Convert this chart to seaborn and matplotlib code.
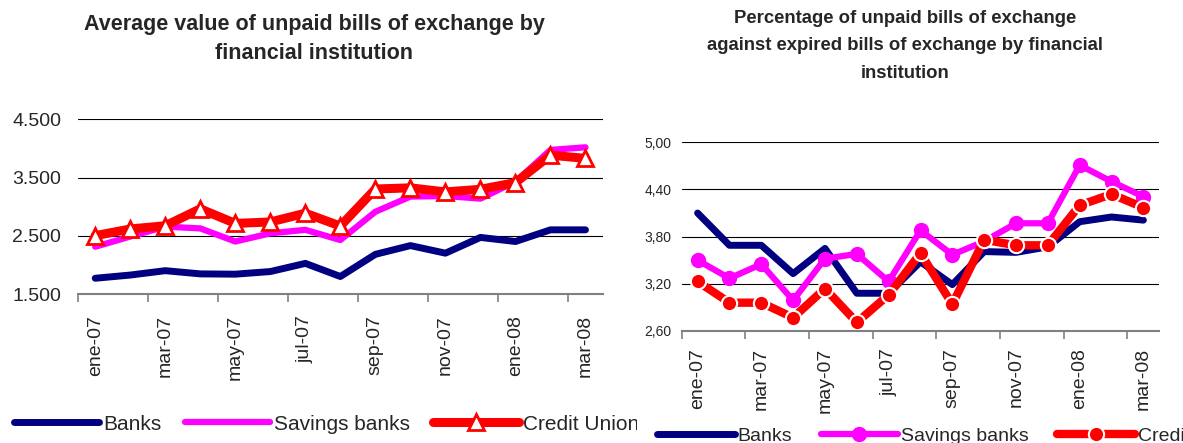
import numpy as np
import pandas as pd
import seaborn as sns
import matplotlib.pyplot as plt
from matplotlib.transforms import Bbox, TransformedBbox

sns.set_style("white")
plt.rcParams['font.family'] = ['Liberation Sans', 'DejaVu Sans']

months = ["ene-07", "feb-07", "mar-07", "abr-07", "may-07", "jun-07", "jul-07", "ago-07",
          "sep-07", "oct-07", "nov-07", "dic-07", "ene-08", "feb-08", "mar-08"]
series_names = ["Banks", "Savings banks", "Credit Union"]

# average value of unpaid bills
avg_banks = [1775, 1830, 1905, 1850, 1845, 1890, 2030, 1805, 2185, 2335, 2205, 2475, 2405, 2605, 2605]
avg_savings = [2315, 2490, 2660, 2630, 2405, 2545, 2605, 2430, 2915, 3175, 3185, 3140, 3430, 3975, 4020]
avg_credit = [2505, 2620, 2675, 2965, 2715, 2740, 2890, 2670, 3305, 3325, 3255, 3300, 3415, 3885, 3830]
avg_ticks = [1500, 2500, 3500, 4500]
avg_ticklabels = ["1.500", "2.500", "3.500", "4.500"]

# percentage unpaid vs expired
pct_banks = [4.10, 3.69, 3.69, 3.33, 3.65, 3.08, 3.08, 3.48, 3.19, 3.61, 3.60, 3.67, 3.99, 4.05, 4.01]
pct_savings = [3.50, 3.27, 3.45, 2.99, 3.52, 3.58, 3.23, 3.88, 3.57, 3.74, 3.97, 3.97, 4.71, 4.50, 4.31]
pct_credit = [3.23, 2.96, 2.96, 2.77, 3.14, 2.71, 3.06, 3.59, 2.94, 3.76, 3.69, 3.69, 4.20, 4.34, 4.17]
pct_ticks = [2.6, 3.2, 3.8, 4.4, 5.0]
pct_ticklabels = ["2,60", "3,20", "3,80", "4,40", "5,00"]

W, H = 1183, 443
fig = plt.figure(figsize=(W / 100, H / 100), dpi=100)
ax1 = fig.add_axes([77.7 / W, 1 - 294.3 / H, 525.3 / W, 175 / H])
ax2 = fig.add_axes([681.7 / W, 1 - 331 / H, 477.6 / W, 188.7 / H])

x = np.arange(len(months))
df1 = pd.DataFrame({"x": x, "Banks": avg_banks, "Savings banks": avg_savings, "Credit Union": avg_credit})
df2 = pd.DataFrame({"x": x, "Banks": pct_banks, "Savings banks": pct_savings, "Credit Union": pct_credit})

common = dict(errorbar=None, solid_capstyle="round", solid_joinstyle="round")
sns.lineplot(data=df1, x="x", y="Banks", ax=ax1, color="#000080", lw=5, label="Banks", **common)
sns.lineplot(data=df1, x="x", y="Savings banks", ax=ax1, color="#FF00FF", lw=4.5, label="Savings banks", **common)
sns.lineplot(data=df1, x="x", y="Credit Union", ax=ax1, color="#FF0000", lw=6.5, label="Credit Union",
             marker="^", markersize=11, markerfacecolor="white", markeredgecolor="#FF0000",
             markeredgewidth=2, **common)

sns.lineplot(data=df2, x="x", y="Banks", ax=ax2, color="#000080", lw=5, label="Banks", **common)
sns.lineplot(data=df2, x="x", y="Savings banks", ax=ax2, color="#FF00FF", lw=4.5, label="Savings banks",
             marker="o", markersize=10, markerfacecolor="#FF00FF", markeredgecolor="#FF00FF",
             markeredgewidth=1, **common)
sns.lineplot(data=df2, x="x", y="Credit Union", ax=ax2, color="#FF0000", lw=6, label="Credit Union",
             marker="o", markersize=11, markerfacecolor="#FF0000", markeredgecolor="white",
             markeredgewidth=1.5, **common)

for ax, ticks, labels, ysize, ypad, xpad in [(ax1, avg_ticks, avg_ticklabels, 14, 12, 15),
                                             (ax2, pct_ticks, pct_ticklabels, 10, 7.5, 12)]:
    ax.set_xlim(-0.5, len(months) - 0.5)
    ax.set_ylim(ticks[0], ticks[-1])
    ax.set_yticks(ticks)
    ax.set_yticklabels(labels, fontsize=ysize)
    ax.set_xticks(x[::2])
    ax.set_xticklabels(months[::2], rotation=90, fontsize=14)
    ax.set_xticks(np.arange(-0.5, len(months) - 1, 2), minor=True)
    ax.tick_params(axis="x", which="major", bottom=True, length=0, pad=xpad)
    ax.tick_params(axis="x", which="minor", bottom=True, length=6, width=1.2,
                   color="#808080", direction="out")
    ax.tick_params(axis="y", length=0, pad=ypad)
    ax.grid(axis="y", color="black", lw=0.8)
    ax.grid(axis="x", visible=False)
    ax.set_axisbelow(True)
    for s in ["left", "top", "right"]:
        ax.spines[s].set_visible(False)
    ax.spines["bottom"].set_color("#808080")
    ax.spines["bottom"].set_linewidth(1.5)
    ax.set_xlabel("")
    ax.set_ylabel("")

h1, l1 = ax1.get_legend_handles_labels()
ax1.get_legend().remove()
leg1 = fig.legend(h1, l1, loc="center left", bbox_to_anchor=(14 / W, 1 - 424 / H), ncol=3,
                  frameon=False, fontsize=15, handlelength=4.1, handletextpad=0.2,
                  columnspacing=1.1, borderpad=0, borderaxespad=0)
clip = TransformedBbox(Bbox.from_extents(0, 0, 637 / W, 1), fig.transFigure)
for t in leg1.get_texts():
    t.set_clip_box(clip)
    t.set_clip_on(True)

h2, l2 = ax2.get_legend_handles_labels()
ax2.get_legend().remove()
fig.legend(h2, l2, loc="center left", bbox_to_anchor=(657 / W, 1 - 436 / H), ncol=3,
           frameon=False, fontsize=14, handlelength=4.0, handletextpad=0.15,
           columnspacing=1.45, borderpad=0, borderaxespad=0)

fig.text(314 / W, 1 - 39 / H, "Average value of unpaid bills of exchange by\nfinancial institution",
         ha="center", va="center", fontsize=15.5, fontweight="bold", linespacing=1.5)
fig.text(905 / W, 1 - 46 / H,
         "Percentage of unpaid bills of exchange\nagainst expired bills of exchange by financial\ninstitution",
         ha="center", va="center", fontsize=13.3, fontweight="bold", linespacing=1.8)

fig.savefig("out.png", dpi=100)
